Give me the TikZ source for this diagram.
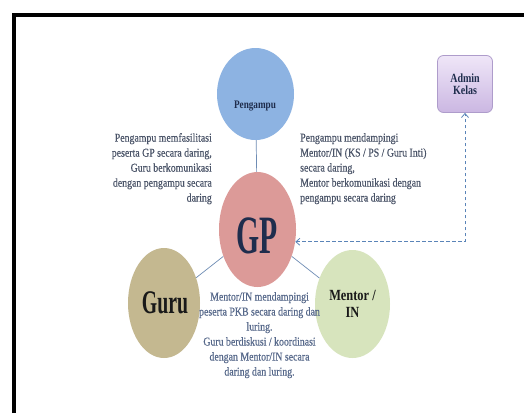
\documentclass[tikz,border=0pt]{standalone}
\usepackage{fontspec}
\setmainfont{Liberation Serif}
\newfontfamily\bodyf[FakeStretch=0.82,FakeBold=0.4]{Liberation Serif}
\newfontfamily\boldf[FakeStretch=0.8]{Liberation Serif}
\newfontfamily\gpf[FakeStretch=0.55]{Liberation Serif}
\newfontfamily\guruf[FakeStretch=0.6]{Liberation Serif}
\usetikzlibrary{shapes.geometric,arrows.meta}
\definecolor{pengc}{HTML}{8DB3E2}
\definecolor{gpc}{HTML}{DC9A98}
\definecolor{guruc}{HTML}{C4B890}
\definecolor{mentc}{HTML}{D7E4BD}
\definecolor{admtop}{HTML}{EFE6F8}
\definecolor{admbot}{HTML}{CBB7E2}
\definecolor{admline}{HTML}{AE9CCB}
\definecolor{linkc}{HTML}{6F8DB5}
\definecolor{dashc}{HTML}{5A84B8}
\definecolor{descc}{HTML}{4A5468}
\definecolor{desc2}{HTML}{56688A}
\definecolor{navy}{HTML}{1F2D4D}
\begin{document}
\begin{tikzpicture}[x=1pt,y=-1pt,
  bub/.style={ellipse, inner sep=0pt, draw=none},
  link/.style={draw=linkc, line width=0.7pt},
  desc/.style={inner sep=0pt, text=descc, font=\bodyf\fontsize{12}{15}\selectfont},
  bigtxt/.style={inner sep=0pt, font=\boldf\bfseries\fontsize{#1}{#1}\selectfont}
]
\useasboundingbox (0,0) rectangle (524,413);
\fill[white] (0,0) rectangle (524,413);
% frame
\draw[line width=3.5pt] (13.75,413) -- (13.75,14.75) -- (524,14.75);
% bubbles
\node[bub, fill=pengc, minimum width=77pt, minimum height=92pt] (peng) at (255.5,94) {};
\node[bub, fill=gpc, minimum width=77pt, minimum height=115pt] (gp) at (257.5,229.5) {};
\node[bub, fill=guruc, minimum width=72pt, minimum height=110pt] (guru) at (164,303) {};
\node[bub, fill=mentc, minimum width=75pt, minimum height=108pt] (ment) at (352.5,304) {};
% links
\draw[link] (peng) -- (gp);
\draw[link] (gp) -- (guru);
\draw[link] (gp) -- (ment);
% admin
\node[draw=admline, line width=0.8pt, rounded corners=6pt, top color=admtop, bottom color=admbot,
      minimum width=55pt, minimum height=57pt, inner sep=0pt] (adm) at (465,84) {};
\node[bigtxt=12.5, text=navy, align=center] (admt) at (adm.center) {Admin\\[-1pt]Kelas};
\draw[dashc, line width=0.8pt, dash pattern=on 3.5pt off 2.5pt,
      {Straight Barb[length=4pt,width=7pt]}-{Straight Barb[length=4pt,width=7pt]}] (gp.-18) -| (adm.south);
% bubble labels
\node[bigtxt=11.5, text=navy] (pengt) at (255,106) {Pengampu};
\node[inner sep=0pt, text=navy, font=\gpf\bfseries\fontsize{54}{54}\selectfont] (gpt) at (257.5,236) {GP};
\node[inner sep=0pt, text=black!90, font=\guruf\bfseries\fontsize{33}{33}\selectfont] (gurut) at (165,303) {Guru};
\node[bigtxt=15.5, text=black!90, align=center] (mentt) at (352.5,304) {Mentor /\\[1pt]IN};
% descriptions
\node[desc, align=right, anchor=north east] (dl) at (212,133) {Pengampu memfasilitasi\\peserta GP secara daring,\\Guru berkomunikasi\\dengan pengampu secara\\daring};
\node[desc, align=left, anchor=north west] (dr) at (300,133) {Pengampu mendampingi\\Mentor/IN (KS / PS / Guru Inti)\\secara daring,\\Mentor berkomunikasi dengan\\pengampu secara daring};
\node[desc, text=desc2, align=center, anchor=north] (db) at (259.5,292) {Mentor/IN mendampingi\\peserta PKB secara daring dan\\luring.\\Guru berdiskusi / koordinasi\\dengan Mentor/IN secara\\daring dan luring.};
\end{tikzpicture}
\end{document}
